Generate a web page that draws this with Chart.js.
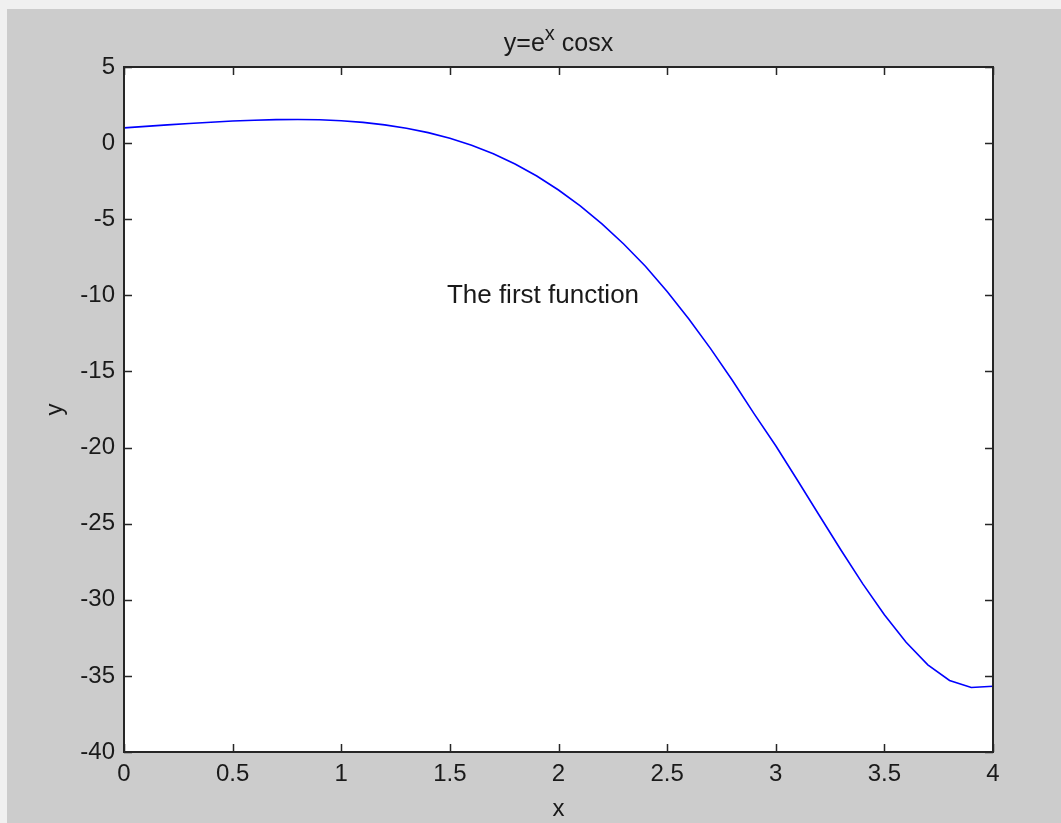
<!DOCTYPE html>
<html>
<head>
<meta charset="utf-8">
<script src="https://cdn.jsdelivr.net/npm/chart.js@4.4.1/dist/chart.umd.min.js"></script>
<style>
  html, body { margin: 0; padding: 0; background: #f0f0f0; overflow: hidden; }
  #wrap { position: absolute; left: 7px; top: 9px; width: 1054px; height: 814px; background: #cccccc; }
  canvas { display: block; }
</style>
</head>
<body>
<div id="wrap"><canvas id="plot" width="1054" height="814"></canvas></div>
<script>
// sample points of y = e^x cos x
const xs = [0, 0.1, 0.2, 0.3, 0.4, 0.5, 0.6, 0.7, 0.8, 0.9, 1.0,
            1.1, 1.2, 1.3, 1.4, 1.5, 1.6, 1.7, 1.8, 1.9, 2.0,
            2.1, 2.2, 2.3, 2.4, 2.5, 2.6, 2.7, 2.8, 2.9, 3.0,
            3.1, 3.2, 3.3, 3.4, 3.5, 3.6, 3.7, 3.8, 3.9, 4.0];
const ys = [1.00, 1.10, 1.20, 1.29, 1.37, 1.45, 1.50, 1.54, 1.55, 1.53, 1.47,
            1.36, 1.20, 0.98, 0.69, 0.32, -0.14, -0.70, -1.37, -2.16, -3.08,
            -4.13, -5.31, -6.63, -8.09, -9.75, -11.55, -13.50, -15.58, -17.77, -19.88,
            -22.15, -24.45, -26.73, -28.94, -30.98, -32.79, -34.27, -35.30, -35.76, -35.68];
const xTicks = [0, 0.5, 1, 1.5, 2, 2.5, 3, 3.5, 4];
const yTicks = [-40, -35, -30, -25, -20, -15, -10, -5, 0, 5];

const titleMain = 'y=e';
const titleSup = 'x';
const titleRest = ' cosx';
const noteText = 'The first function';
const noteAt = [1.5, -10];

const FONT = '"Liberation Sans", Arial, sans-serif';
const INK = '#1a1a1a';

const framePlugin = {
  id: 'frame',
  beforeDraw(chart) {
    const a = chart.chartArea, ctx = chart.ctx;
    ctx.save();
    ctx.fillStyle = '#ffffff';
    ctx.fillRect(a.left, a.top, a.right - a.left, a.bottom - a.top);
    ctx.restore();
  },
  afterDraw(chart) {
    const a = chart.chartArea, ctx = chart.ctx;
    const sx = chart.scales.x, sy = chart.scales.y;
    ctx.save();
    ctx.strokeStyle = '#262626';
    ctx.lineWidth = 2;
    ctx.strokeRect(a.left, a.top, a.right - a.left, a.bottom - a.top);
    // inward ticks on all four sides
    ctx.lineWidth = 1.5;
    ctx.beginPath();
    xTicks.forEach(v => {
      const px = Math.round(sx.getPixelForValue(v)) + 0.5;
      ctx.moveTo(px, a.bottom); ctx.lineTo(px, a.bottom - 8);
      ctx.moveTo(px, a.top); ctx.lineTo(px, a.top + 8);
    });
    yTicks.forEach(v => {
      const py = Math.round(sy.getPixelForValue(v)) + 0.5;
      ctx.moveTo(a.left, py); ctx.lineTo(a.left + 8, py);
      ctx.moveTo(a.right, py); ctx.lineTo(a.right - 8, py);
    });
    ctx.stroke();

    ctx.fillStyle = INK;
    // title with superscript
    ctx.font = '25px ' + FONT;
    ctx.textBaseline = 'alphabetic';
    const w1 = ctx.measureText(titleMain).width;
    const w3 = ctx.measureText(titleRest).width;
    ctx.font = '20px ' + FONT;
    const w2 = ctx.measureText(titleSup).width;
    const cx = (a.left + a.right) / 2;
    let tx = cx - (w1 + w2 + w3) / 2;
    const base = 42;
    ctx.font = '25px ' + FONT;
    ctx.textAlign = 'left';
    ctx.fillText(titleMain, tx, base);
    ctx.font = '20px ' + FONT;
    ctx.fillText(titleSup, tx + w1, base - 11);
    ctx.font = '25px ' + FONT;
    ctx.fillText(titleRest, tx + w1 + w2, base);

    // annotation
    ctx.font = '26px ' + FONT;
    ctx.textBaseline = 'middle';
    ctx.fillText(noteText, sx.getPixelForValue(noteAt[0]) - 3, sy.getPixelForValue(noteAt[1]));

    // axis labels
    ctx.font = '24px ' + FONT;
    ctx.textAlign = 'center';
    ctx.fillText('x', cx, 800);
    ctx.translate(48, (a.top + a.bottom) / 2);
    ctx.rotate(-Math.PI / 2);
    ctx.fillText('y', 0, 0);
    ctx.restore();
  }
};

const ctx = document.getElementById('plot').getContext('2d');
new Chart(ctx, {
  type: 'scatter',
  data: {
    datasets: [{
      data: xs.map((x, i) => ({ x: x, y: ys[i] })),
      showLine: true,
      borderColor: '#0000ff',
      borderWidth: 1.6,
      pointRadius: 0,
      tension: 0
    }]
  },
  options: {
    responsive: false,
    animation: false,
    layout: { padding: { left: 0, top: 58, right: 68, bottom: 0 } },
    plugins: { legend: { display: false }, tooltip: { enabled: false }, title: { display: false } },
    scales: {
      x: {
        type: 'linear', min: 0, max: 4,
        afterBuildTicks: s => { s.ticks = xTicks.map(v => ({ value: v })); },
        afterFit: s => { s.height = 71; },
        grid: { display: false, drawTicks: false },
        border: { display: false },
        ticks: {
          color: INK, font: { family: FONT, size: 24 }, padding: 8, maxRotation: 0, autoSkip: false,
          callback: v => String(v)
        }
      },
      y: {
        type: 'linear', min: -40, max: 5,
        afterBuildTicks: s => { s.ticks = yTicks.map(v => ({ value: v })); },
        afterFit: s => { s.width = 117; },
        grid: { display: false, drawTicks: false },
        border: { display: false },
        ticks: { color: INK, font: { family: FONT, size: 24 }, padding: 9, autoSkip: false, callback: v => String(v) }
      }
    }
  },
  plugins: [framePlugin]
});
</script>
</body>
</html>
